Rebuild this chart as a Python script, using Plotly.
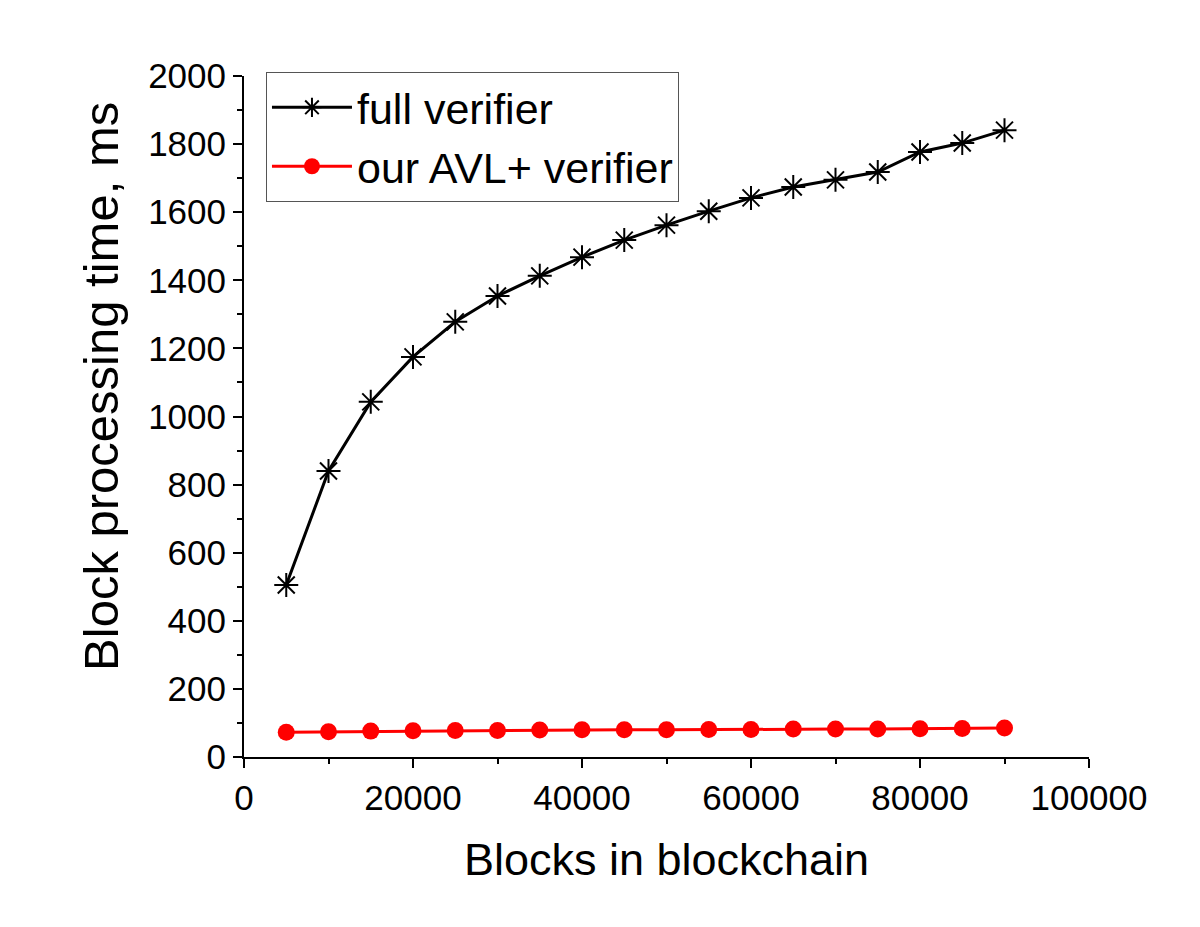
import plotly.graph_objects as go

blocks = [5000, 10000, 15000, 20000, 25000, 30000, 35000, 40000, 45000,
          50000, 55000, 60000, 65000, 70000, 75000, 80000, 85000, 90000]
full_verifier = [505, 840, 1043, 1175, 1278, 1354, 1413, 1468, 1518,
                 1562, 1603, 1642, 1674, 1695, 1718, 1777, 1803, 1841]
avl_verifier = [73, 74, 76, 77, 78, 78, 79, 80, 80,
                80, 81, 81, 82, 82, 82, 83, 84, 85]

FONT = "Liberation Sans, Arial, sans-serif"

fig = go.Figure()
fig.add_trace(go.Scatter(
    x=blocks, y=full_verifier, mode="lines+markers", name="full verifier",
    line=dict(color="black", width=3),
    marker=dict(symbol="asterisk-open", size=20, color="black",
                line=dict(color="black", width=2)),
))
fig.add_trace(go.Scatter(
    x=blocks, y=avl_verifier, mode="lines+markers", name="our AVL+ verifier",
    line=dict(color="#ff0000", width=3),
    marker=dict(symbol="circle", size=17, color="#ff0000"),
))

axis_common = dict(
    showline=True, linecolor="black", linewidth=2, mirror=False,
    ticks="outside", ticklen=9, tickwidth=2, tickcolor="black",
    showgrid=False, zeroline=False,
    tickfont=dict(family=FONT, size=35, color="black"),
)

fig.update_xaxes(
    range=[0, 100000], tickvals=[0, 20000, 40000, 60000, 80000, 100000],
    ticktext=["0", "20000", "40000", "60000", "80000", "100000"],
    minor=dict(dtick=10000, ticks="outside", ticklen=5, tickwidth=2, tickcolor="black"),
    title=dict(text="Blocks in blockchain", font=dict(family=FONT, size=45, color="black"),
               standoff=27),
    **axis_common,
)
fig.update_yaxes(
    range=[0, 2000], dtick=200, tickformat="d",
    minor=dict(dtick=100, ticks="outside", ticklen=5, tickwidth=2, tickcolor="black"),
    **axis_common,
)

fig.add_annotation(
    text="Block processing time, ms", textangle=-90,
    xref="paper", yref="paper", x=-0.170, y=0.544,
    xanchor="center", yanchor="middle", showarrow=False,
    font=dict(family=FONT, size=49, color="black"),
)

fig.update_layout(
    width=1200, height=927,
    margin=dict(l=244, r=111, t=76, b=170),
    paper_bgcolor="white", plot_bgcolor="white",
    showlegend=True,
    legend=dict(
        x=0.026, y=1.006, xanchor="left", yanchor="top",
        bgcolor="white", bordercolor="#555555", borderwidth=1,
        font=dict(family=FONT, size=43, color="black"),
        itemwidth=80, tracegroupgap=0,
    ),
)

fig.write_html("out.html")
